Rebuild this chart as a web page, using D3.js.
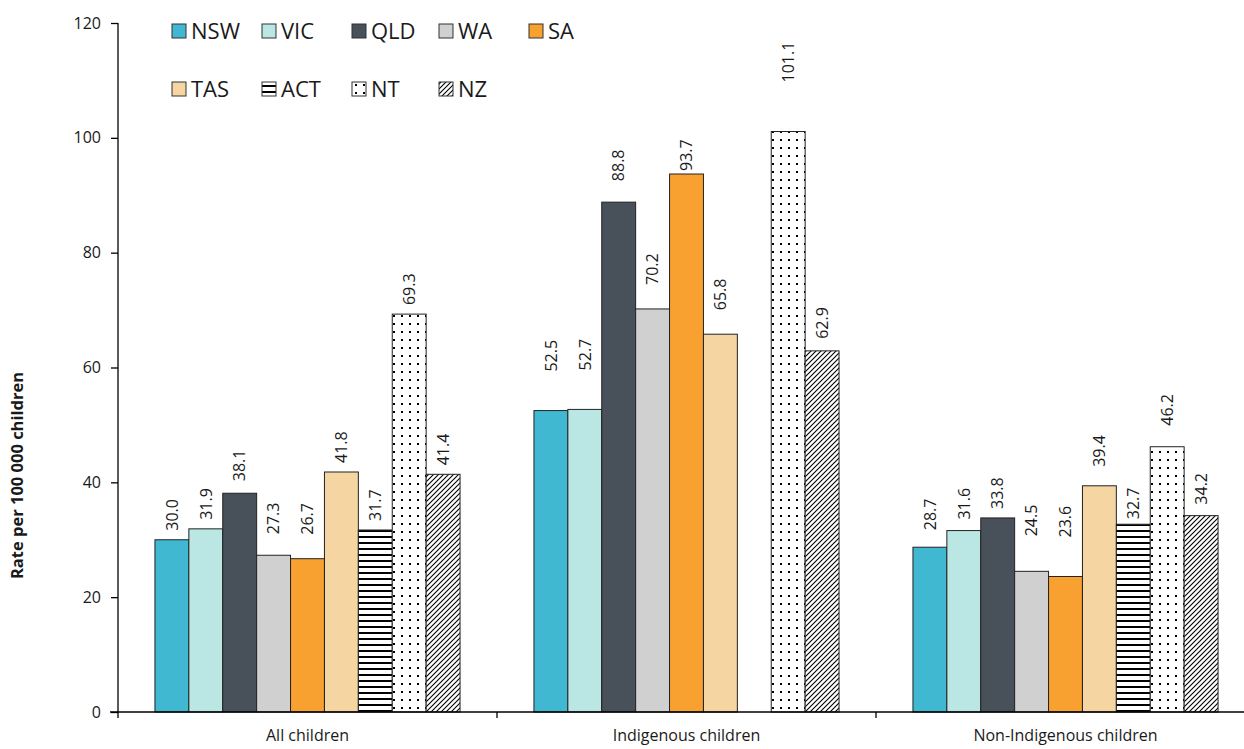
<!DOCTYPE html>
<html>
<head>
<meta charset="utf-8">
<script src="https://cdn.jsdelivr.net/npm/d3@7/dist/d3.min.js"></script>
<style>
  html, body { margin: 0; padding: 0; background: #fff; }
  svg { display: block; }
  text { font-family: "Open Sans", "DejaVu Sans", sans-serif; fill: #1a1a1a; }
</style>
</head>
<body>
<svg id="chart" width="1244" height="749"></svg>
<script>
// Child death rates by jurisdiction, per 100 000 children
const groups = ["All children", "Indigenous children", "Non-Indigenous children"];
const jurisdictions = ["NSW", "VIC", "QLD", "WA", "SA", "TAS", "ACT", "NT", "NZ"];
const allChildren = [30.0, 31.9, 38.1, 27.3, 26.7, 41.8, 31.7, 69.3, 41.4];
const indigenousChildren = [52.5, 52.7, 88.8, 70.2, 93.7, 65.8, null, 101.1, 62.9];
const nonIndigenousChildren = [28.7, 31.6, 33.8, 24.5, 23.6, 39.4, 32.7, 46.2, 34.2];
const yTicks = [0, 20, 40, 60, 80, 100, 120];

const seriesByGroup = [allChildren, indigenousChildren, nonIndigenousChildren];

// Hand-placed value labels: extra lift (px) above the default gap
const labelLift = [
  [0, 0, 3, 12, 15, 0, 0, 0, 0],
  [30, 30, 12, 15, -6, 15, 0, 40, 3],
  [8, 2, 0, 26, 30, 10, -4, 12, 2]
];

const svg = d3.select("#chart");
const margin = { left: 118, top: 23, bottom: 712, right: 1255 };

// Fills: solid colours plus three patterns
const defs = svg.append("defs");

const hLines = defs.append("pattern").attr("id", "pat-act")
  .attr("patternUnits", "userSpaceOnUse").attr("width", 8).attr("height", 6);
hLines.append("rect").attr("width", 8).attr("height", 6).attr("fill", "#fff");
hLines.append("rect").attr("x", 0).attr("y", 2).attr("width", 8).attr("height", 2).attr("fill", "#000");

const dots = defs.append("pattern").attr("id", "pat-nt")
  .attr("patternUnits", "userSpaceOnUse").attr("width", 8).attr("height", 8);
dots.append("rect").attr("width", 8).attr("height", 8).attr("fill", "#fff");
dots.append("rect").attr("x", 3).attr("y", 3).attr("width", 2).attr("height", 2).attr("fill", "#000");

const hatch = defs.append("pattern").attr("id", "pat-nz")
  .attr("patternUnits", "userSpaceOnUse").attr("width", 5).attr("height", 5);
hatch.append("rect").attr("width", 5).attr("height", 5).attr("fill", "#fff");
hatch.append("path").attr("d", "M-1,1 L1,-1 M0,5 L5,0 M4,6 L6,4")
  .attr("stroke", "#000").attr("stroke-width", 1.1);

const fills = {
  NSW: "#41b8d1", VIC: "#bae6e3", QLD: "#48505a", WA: "#d0d0d0", SA: "#f8a130",
  TAS: "#f5d5a2", ACT: "url(#pat-act)", NT: "url(#pat-nt)", NZ: "url(#pat-nz)"
};

// Scales
const y = d3.scaleLinear().domain([0, 120]).range([margin.bottom, margin.top]);
const x0 = d3.scaleBand().domain(groups).range([margin.left, margin.right]).padding(0);
const x1 = d3.scaleBand().domain(jurisdictions)
  .range([0, x0.bandwidth()]).paddingInner(0).paddingOuter(1.09);

// Y axis
const yAxis = svg.append("g").attr("transform", `translate(${margin.left},0)`)
  .call(d3.axisLeft(y).tickValues(yTicks).tickSize(7).tickPadding(10).tickFormat(d3.format("d")));
yAxis.select(".domain").attr("stroke", "#000").attr("stroke-width", 1.3).attr("d", `M0,${margin.top}V${margin.bottom}`);
yAxis.selectAll(".tick line").attr("stroke", "#000").attr("stroke-width", 1.3);
yAxis.selectAll(".tick text").style("font-size", "16px").attr("fill", "#1a1a1a");

// Axis title
svg.append("text")
  .attr("transform", `translate(23,${(margin.top + margin.bottom) / 2 + 108}) rotate(-90)`)
  .attr("text-anchor", "middle")
  .style("font-family", "'Liberation Sans Narrow', 'Arial Narrow', 'Open Sans', sans-serif")
  .style("font-weight", "bold").style("font-size", "16.5px")
  .text("Rate per 100 000 children");

// Bars
const groupG = svg.append("g").selectAll("g").data(groups).join("g")
  .attr("transform", d => `translate(${x0(d)},0)`);

groupG.each(function (g, gi) {
  const rows = jurisdictions.map((j, i) => ({ j, v: seriesByGroup[gi][i], lift: labelLift[gi][i] }))
    .filter(d => d.v !== null);
  const sel = d3.select(this);
  sel.selectAll("rect").data(rows).join("rect")
    .attr("x", d => x1(d.j))
    .attr("y", d => y(d.v))
    .attr("width", x1.bandwidth())
    .attr("height", d => y(0) - y(d.v))
    .attr("fill", d => fills[d.j])
    .attr("stroke", "#222")
    .attr("stroke-width", 1);
  sel.selectAll("text.val").data(rows).join("text")
    .attr("class", "val")
    .attr("transform", d => `translate(${x1(d.j) + x1.bandwidth() / 2},${y(d.v) - 9 - d.lift}) rotate(-90)`)
    .attr("text-anchor", "start")
    .attr("dy", "0.36em")
    .style("font-size", "16px")
    .text(d => d3.format(".1f")(d.v));
});

// X axis
const xAxisG = svg.append("g").attr("transform", `translate(0,${margin.bottom})`);
xAxisG.append("line").attr("x1", 110).attr("x2", 1244).attr("y1", 0).attr("y2", 0)
  .attr("stroke", "#000").attr("stroke-width", 1.3);
const boundaries = groups.map(g => x0(g));
xAxisG.selectAll("line.tk").data(boundaries).join("line").attr("class", "tk")
  .attr("x1", d => d).attr("x2", d => d).attr("y1", 0).attr("y2", 6)
  .attr("stroke", "#000").attr("stroke-width", 1.3);
xAxisG.selectAll("text.cat").data(groups).join("text").attr("class", "cat")
  .attr("x", d => x0(d) + x0.bandwidth() / 2).attr("y", 29)
  .attr("text-anchor", "middle").style("font-size", "16px")
  .text(d => d);

// Legend
const legendCols = [172, 262, 352, 439, 529];
const legend = svg.append("g").selectAll("g").data(jurisdictions).join("g")
  .attr("transform", (d, i) => {
    const row = Math.floor(i / 5), col = i % 5;
    return `translate(${legendCols[col]},${row === 0 ? 31 : 89})`;
  });
legend.append("rect").attr("x", 0).attr("y", -7).attr("width", 14).attr("height", 14)
  .attr("fill", d => fills[d]).attr("stroke", "#333").attr("stroke-width", 1);
legend.append("text").attr("x", 19).attr("y", 0).attr("dy", "0.36em")
  .style("font-size", "22px").text(d => d);
</script>
</body>
</html>
